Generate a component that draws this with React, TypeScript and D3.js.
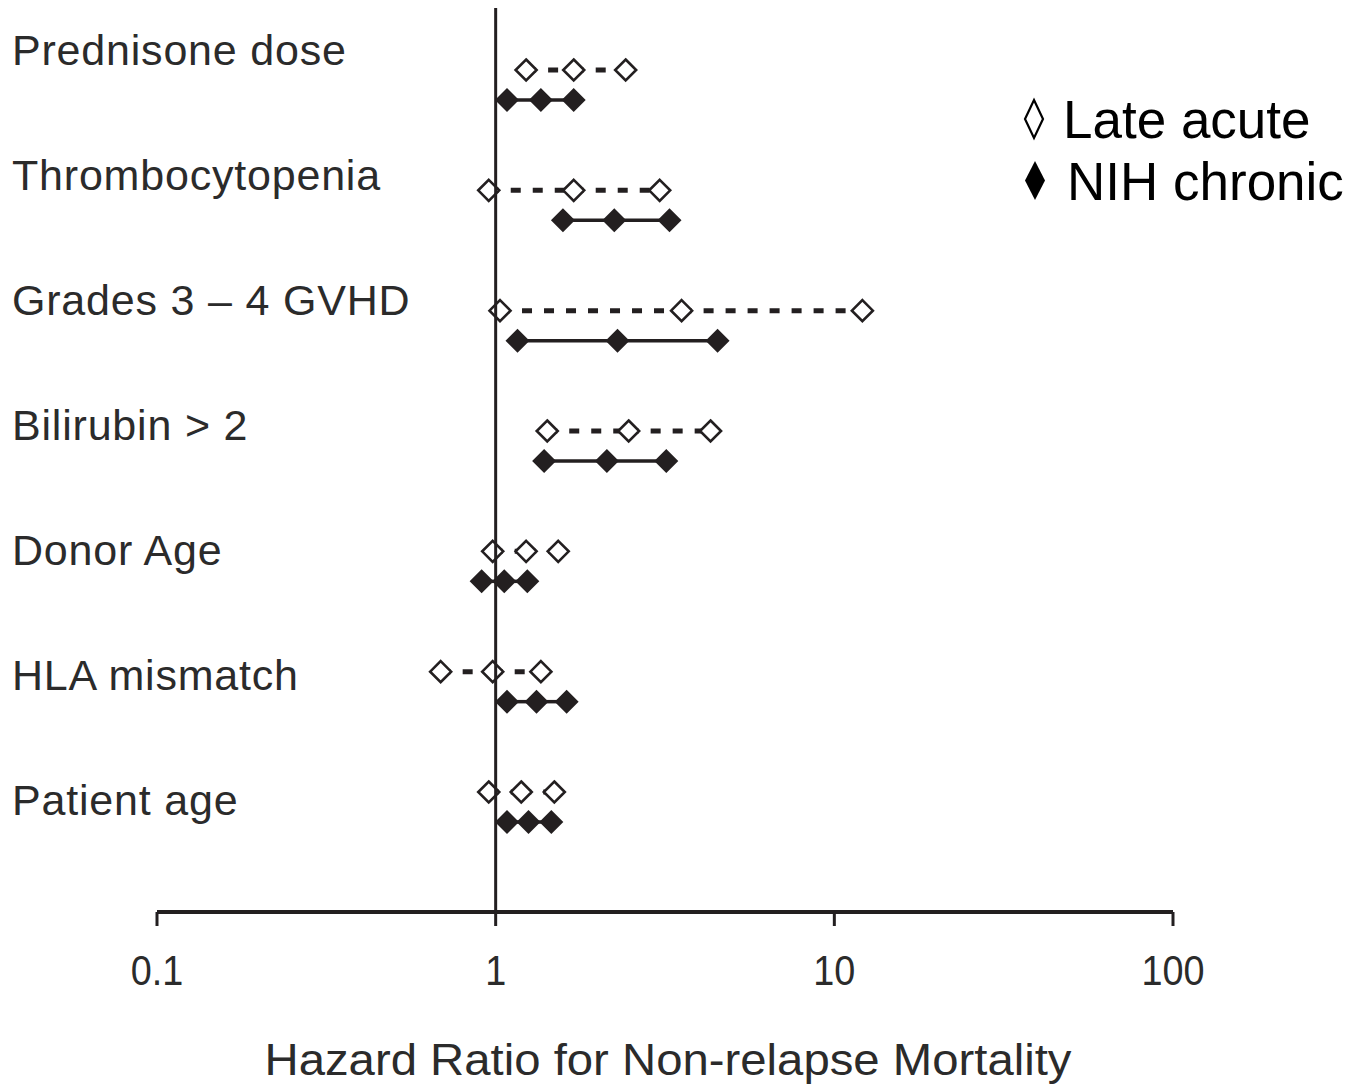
import React from "react";
import * as d3 from "d3";

const categories = [
  "Prednisone dose",
  "Thrombocytopenia",
  "Grades 3 – 4 GVHD",
  "Bilirubin > 2",
  "Donor Age",
  "HLA mismatch",
  "Patient age",
];

// Late acute GVHD: lower CI, hazard ratio, upper CI
const lateLow = [1.23, 0.954, 1.03, 1.42, 0.98, 0.688, 0.954];
const lateHR = [1.7, 1.7, 3.54, 2.47, 1.23, 0.98, 1.19];
const lateHigh = [2.42, 3.05, 12.1, 4.31, 1.53, 1.36, 1.49];

// NIH chronic GVHD: lower CI, hazard ratio, upper CI
const chronicLow = [1.08, 1.58, 1.16, 1.39, 0.909, 1.08, 1.08];
const chronicHR = [1.36, 2.24, 2.29, 2.13, 1.06, 1.32, 1.25];
const chronicHigh = [1.7, 3.26, 4.52, 3.19, 1.24, 1.62, 1.46];

const tickValues = [0.1, 1, 10, 100];
const tickLabels = ["0.1", "1", "10", "100"];

const legendLabels = ["Late acute", "NIH chronic"];
const axisTitle = "Hazard Ratio for Non-relapse Mortality";

const INK = "#231f20";
const FONT = "'Liberation Sans', Arial, Helvetica, sans-serif";

function diamond(cx: number, cy: number, r: number) {
  return `M${cx},${cy - r}L${cx + r},${cy}L${cx},${cy + r}L${cx - r},${cy}Z`;
}

export default function App() {
  const width = 1356;
  const height = 1087;
  const x = d3.scaleLog().domain([0.1, 100]).range([157, 1173]);
  const yMark = d3.scalePoint<string>().domain(categories).range([70, 792]);
  const yLabel = d3.scalePoint<string>().domain(categories).range([65, 815]);
  const chronicOffset = 30;
  const axisY = 912;

  const segs = (lo: number[], hr: number[], hi: number[]) =>
    categories.flatMap((c, i) => [
      { c, a: lo[i], b: hr[i] },
      { c, a: hr[i], b: hi[i] },
    ]);

  const lateSegs = segs(lateLow, lateHR, lateHigh);
  const chronicSegs = segs(chronicLow, chronicHR, chronicHigh);

  return (
    <svg
      width={width}
      height={height}
      style={{ position: "absolute", left: 0, top: 0, display: "block", background: "#fff" }}
    >
      {/* category labels */}
      {categories.map((c) => (
        <text
          key={c}
          x={12}
          y={yLabel(c)}
          fontFamily={FONT}
          fontSize={43}
          letterSpacing={0.8}
          fill="#2b2b2b"
        >
          {c}
        </text>
      ))}

      {/* dashed late acute segments */}
      {lateSegs.map((s, i) => (
        <line
          key={"ls" + i}
          x1={x(s.a)}
          x2={x(s.b)}
          y1={yMark(s.c)!}
          y2={yMark(s.c)!}
          stroke={INK}
          strokeWidth={5}
          strokeDasharray="10,12"
        />
      ))}
      {/* solid chronic segments */}
      {chronicSegs.map((s, i) => (
        <line
          key={"cs" + i}
          x1={x(s.a)}
          x2={x(s.b)}
          y1={yMark(s.c)! + chronicOffset}
          y2={yMark(s.c)! + chronicOffset}
          stroke={INK}
          strokeWidth={3.5}
        />
      ))}

      {/* late acute markers */}
      {categories.map((c, i) =>
        [lateLow[i], lateHR[i], lateHigh[i]].map((v, j) => (
          <path
            key={"lm" + i + "-" + j}
            d={diamond(x(v), yMark(c)!, 10.5)}
            fill="#fff"
            stroke={INK}
            strokeWidth={2.6}
          />
        ))
      )}
      {/* chronic markers */}
      {categories.map((c, i) =>
        [chronicLow[i], chronicHR[i], chronicHigh[i]].map((v, j) => (
          <path
            key={"cm" + i + "-" + j}
            d={diamond(x(v), yMark(c)! + chronicOffset, 12)}
            fill={INK}
          />
        ))
      )}

      {/* reference line at HR = 1 */}
      <line x1={x(1)} x2={x(1)} y1={8} y2={axisY} stroke={INK} strokeWidth={3} />

      {/* x axis */}
      <line x1={x(0.1)} x2={x(100)} y1={axisY} y2={axisY} stroke={INK} strokeWidth={4} />
      {tickValues.map((t, i) => (
        <g key={"t" + t}>
          <line x1={x(t)} x2={x(t)} y1={axisY} y2={axisY + 14} stroke={INK} strokeWidth={3} />
          <g transform={`translate(${x(t)},985) scale(0.9,1)`}>
            <text x={0} y={0} textAnchor="middle" fontFamily={FONT} fontSize={42} fill="#2b2b2b">
              {tickLabels[i]}
            </text>
          </g>
        </g>
      ))}
      <text
        x={668}
        y={1075}
        textAnchor="middle"
        fontFamily={FONT}
        fontSize={45}
        fill="#2b2b2b"
        textLength={807}
        lengthAdjust="spacingAndGlyphs"
      >
        {axisTitle}
      </text>

      {/* legend */}
      <path d="M1034,100L1043,119L1034,138L1025,119Z" fill="#fff" stroke="#000" strokeWidth={2.2} />
      <text x={1063} y={138} fontFamily={FONT} fontSize={53} fill="#000">
        {legendLabels[0]}
      </text>
      <path d="M1035,161L1045,180.5L1035,200L1025,180.5Z" fill="#000" />
      <text x={1067} y={200} fontFamily={FONT} fontSize={53} fill="#000">
        {legendLabels[1]}
      </text>
    </svg>
  );
}
